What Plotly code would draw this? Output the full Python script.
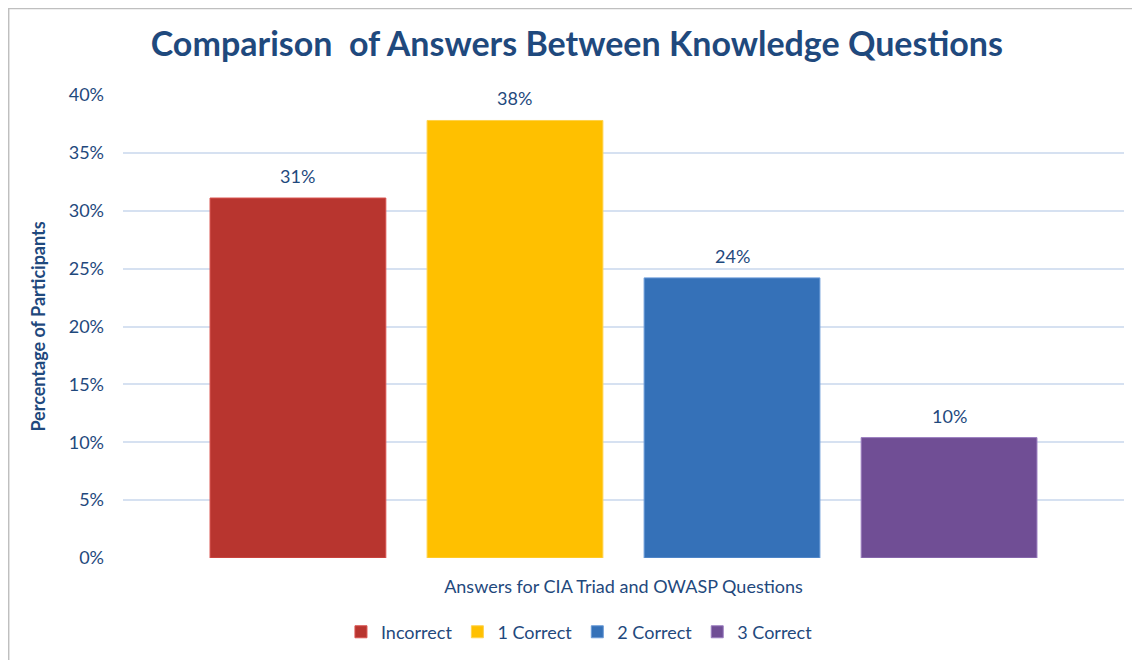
import plotly.graph_objects as go

categories = ["Incorrect", "1 Correct", "2 Correct", "3 Correct"]
values = [31.1, 37.8, 24.2, 10.4]
colors = ["#B8352F", "#FFC000", "#3571B8", "#704E95"]
edge_colors = ["#D9534F", "#FFD24D", "#6A9BD8", "#9B7EC0"]

title_text = "Comparison  of Answers Between Knowledge Questions"
x_title = "Answers for CIA Triad and OWASP Questions"
y_title = "Percentage of Participants"
y_ticks = [0, 5, 10, 15, 20, 25, 30, 35, 40]
y_tick_text = [f"{t}%" for t in y_ticks]

navy = "#1F497D"
font = "Lato, 'Open Sans', sans-serif"

fig = go.Figure()
for name, v, c, e in zip(categories, values, colors, edge_colors):
    fig.add_trace(go.Bar(
        x=[name], y=[v], name=name,
        marker=dict(color=c, line=dict(color=e, width=1)),
        width=0.81,
    ))
    # value label above each bar
    fig.add_annotation(x=name, y=v, text=f"{v:.0f}%", showarrow=False,
                       yanchor="bottom", yshift=9,
                       font=dict(size=18, color=navy, family=font))

fig.update_layout(
    width=1140, height=660,
    margin=dict(l=115, r=24, t=87, b=110),
    paper_bgcolor="white", plot_bgcolor="white",
    barmode="overlay",
    title=dict(text="<b>" + title_text + "</b>", x=0.499, xanchor="center",
               y=0.945, yanchor="middle",
               font=dict(size=34, color=navy, family=font)),
    font=dict(family=font, color=navy, size=18),
    showlegend=True,
    legend=dict(orientation="h", x=0.456, xanchor="center", y=-0.16, yanchor="middle",
                font=dict(size=18, color=navy), itemwidth=30, traceorder="normal"),
    xaxis=dict(categoryorder="array", categoryarray=categories,
               range=[-0.806, 3.806], showticklabels=False, showgrid=False,
               zeroline=False, showline=False,
               title=dict(text=x_title, font=dict(size=18, color=navy), standoff=22)),
    yaxis=dict(range=[0, 40], tickvals=y_ticks, ticktext=y_tick_text,
               showgrid=True, gridcolor="#D6E1F1", gridwidth=2,
               zeroline=False, showline=False, ticks="",
               ticklabelstandoff=18,
               tickfont=dict(size=18, color=navy),
               title=dict(text="<b>" + y_title + "</b>", font=dict(size=18, color=navy), standoff=18)),
    # light chart-area frame (top and left edges visible)
    shapes=[dict(type="rect", xref="paper", yref="paper",
                 x0=-0.1142, x1=1.2, y0=-0.3, y1=1.1866,
                 line=dict(color="#BFBFBF", width=1.5), layer="below")],
)

fig.write_html("out.html")
